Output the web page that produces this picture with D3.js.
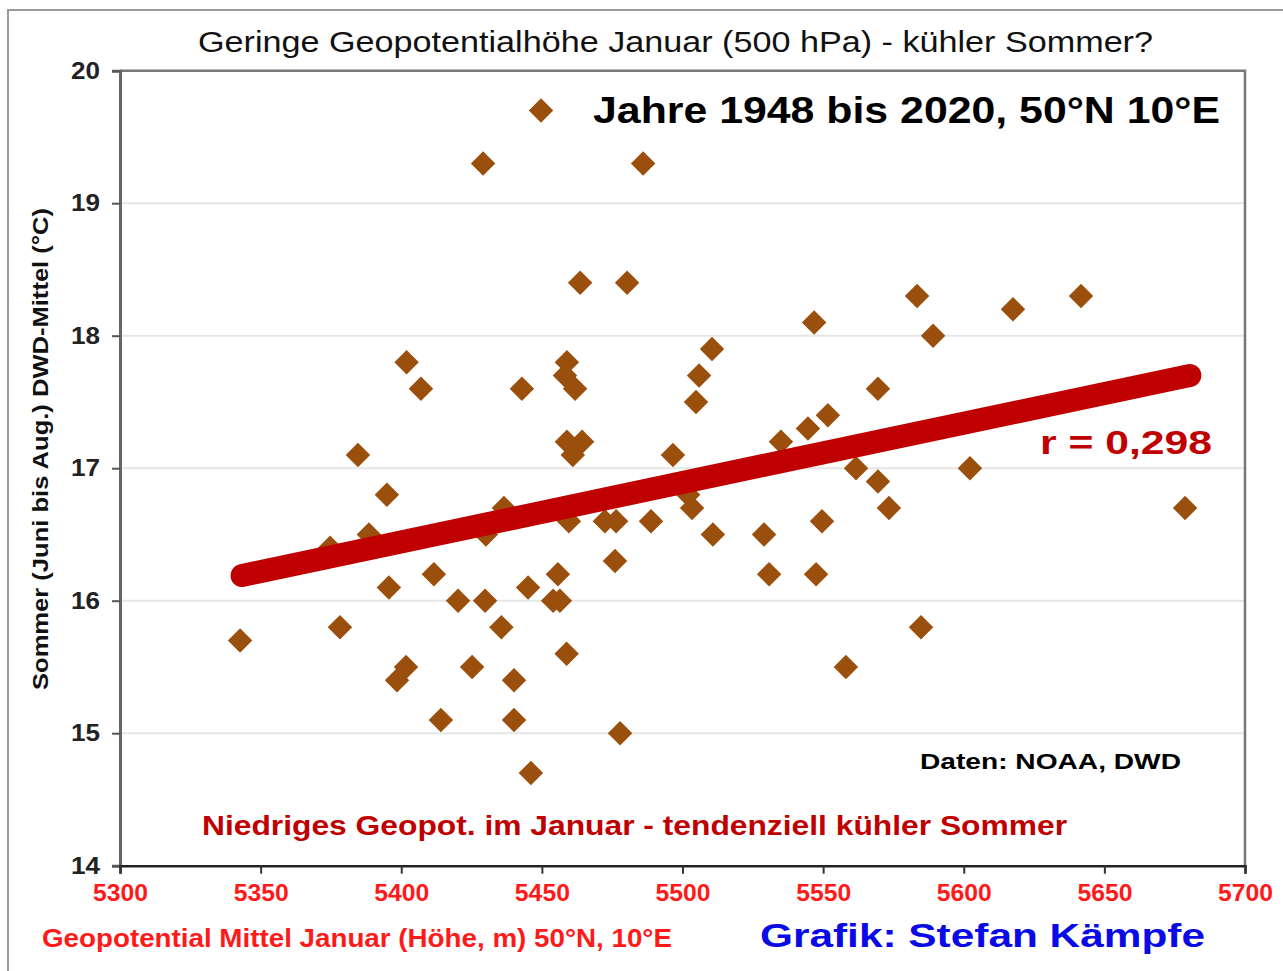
<!DOCTYPE html>
<html>
<head>
<meta charset="utf-8">
<script src="https://cdn.jsdelivr.net/npm/d3@7"></script>
<style>
  html, body { margin: 0; padding: 0; background: #fff; }
  svg { display: block; }
  text { font-family: "Liberation Sans", Arial, sans-serif; }
</style>
</head>
<body>
<svg id="chart" width="1283" height="971"></svg>
<script>
// Geopotential height January (m) per year, 1948-2020
const geopot = [5342.7, 5374.7, 5378.2, 5384.6, 5388.5, 5394.9, 5395.6, 5398.5, 5401.7, 5401.9,
  5407.0, 5411.6, 5414.1, 5420.2, 5425.2, 5429.1, 5429.8, 5430.1, 5435.6, 5436.5,
  5440.1, 5440.1, 5442.9, 5445.1, 5446.1, 5449.7, 5454.0, 5455.7, 5456.4, 5458.2,
  5458.9, 5458.8, 5458.9, 5459.6, 5461.0, 5461.8, 5463.6, 5464.3, 5472.4, 5476.4,
  5476.0, 5477.8, 5480.3, 5486.0, 5488.8, 5496.6, 5502.0, 5503.4, 5504.8, 5505.9,
  5510.5, 5510.8, 5529.0, 5530.8, 5535.0, 5544.6, 5546.8, 5547.5, 5549.6, 5551.7,
  5558.1, 5561.7, 5569.5, 5569.5, 5573.4, 5583.4, 5584.8, 5589.1, 5602.2, 5617.5,
  5641.7, 5678.7];
// Summer mean temperature (Jun-Aug) DWD (°C)
const summerTemp = [15.7, 16.4, 15.8, 17.1, 16.5, 16.8, 16.1, 15.4, 15.5, 17.8,
  17.6, 16.2, 15.1, 16.0, 15.5, 19.3, 16.0, 16.5, 15.8, 16.7,
  15.4, 15.1, 17.6, 16.1, 14.7, 19.7, 16.0, 16.2, 16.0, 17.7,
  17.8, 15.6, 17.2, 16.6, 17.1, 17.6, 18.4, 17.2, 16.6, 16.6,
  16.3, 15.0, 18.4, 19.3, 16.6, 17.1, 16.8, 16.7, 17.5, 17.7,
  17.9, 16.5, 16.5, 16.2, 17.2, 17.3, 18.1, 16.2, 16.6, 17.4,
  15.5, 17.0, 17.6, 16.9, 16.7, 18.3, 15.8, 18.0, 17.0, 18.2,
  18.3, 16.7];
// Linear trend line endpoints
const trendX = [5343.4, 5680.4];
const trendY = [16.19, 17.70];
const xTicks = [5300, 5350, 5400, 5450, 5500, 5550, 5600, 5650, 5700];
const yTicks = [14, 15, 16, 17, 18, 19, 20];

const svg = d3.select("#chart");
const pL = 120, pR = 1245, pT = 70.7, pB = 865.7;
const x = d3.scaleLinear().domain([5300, 5700]).range([pL, pR]);
const y = d3.scaleLinear().domain([14, 20]).range([pB, pT]);

// outer frame
svg.append("rect").attr("x", 8).attr("y", 10).attr("width", 1300).attr("height", 1000)
  .attr("fill", "none").attr("stroke", "#9a9a9a").attr("stroke-width", 2);

// gridlines
svg.append("g").selectAll("line").data(yTicks.filter(d => d > 14 && d < 20)).join("line")
  .attr("x1", pL).attr("x2", pR).attr("y1", d => y(d)).attr("y2", d => y(d))
  .attr("stroke", "#e6e6e6").attr("stroke-width", 2);

// plot frame top/right
svg.append("path").attr("d", `M${pL},${pT}H${pR}V${pB}`)
  .attr("fill", "none").attr("stroke", "#777").attr("stroke-width", 2.5);

// axes
const yAxis = svg.append("g").attr("transform", `translate(${pL},0)`)
  .call(d3.axisLeft(y).tickValues(yTicks).tickSize(8).tickPadding(12).tickFormat(d3.format("d")));
yAxis.select(".domain").attr("stroke", "#666").attr("stroke-width", 3);
yAxis.selectAll(".tick line").attr("stroke", "#555").attr("stroke-width", 2);
yAxis.selectAll(".tick text").attr("font-size", 24).attr("fill", "#222")
  .attr("font-family", "Liberation Sans, Arial").attr("font-weight", "bold")
  .attr("textLength", 29).attr("lengthAdjust", "spacingAndGlyphs");

const xAxis = svg.append("g").attr("transform", `translate(0,${pB})`)
  .call(d3.axisBottom(x).tickValues(xTicks).tickSize(8).tickPadding(10).tickFormat(d3.format("d")));
xAxis.select(".domain").attr("stroke", "#222").attr("stroke-width", 2.5);
xAxis.selectAll(".tick line").attr("stroke", "#333").attr("stroke-width", 2);
xAxis.selectAll(".tick text").attr("font-size", 24).attr("fill", "#ff1a1a")
  .attr("font-family", "Liberation Sans, Arial").attr("font-weight", "bold")
  .attr("textLength", 55).attr("lengthAdjust", "spacingAndGlyphs");

// points (diamonds)
const pts = geopot.map((g, i) => ({ g, t: summerTemp[i] }));
const diamond = d3.symbol().type(d3.symbolSquare).size(300);
svg.append("g").selectAll("path").data(pts).join("path")
  .attr("d", diamond)
  .attr("transform", d => `translate(${x(d.g)},${y(d.t)}) rotate(45)`)
  .attr("fill", "#9a4f0c");

// trend line
svg.append("path")
  .datum(trendX.map((v, i) => [v, trendY[i]]))
  .attr("d", d3.line().x(d => x(d[0])).y(d => y(d[1])))
  .attr("stroke", "#c00000").attr("stroke-width", 23).attr("stroke-linecap", "round").attr("fill", "none");

// texts
function txt(str, px, py, opts) {
  const t = svg.append("text").attr("x", px).attr("y", py).text(str)
    .attr("font-size", opts.size).attr("fill", opts.fill || "#000")
    .attr("font-weight", opts.weight || "normal");
  if (opts.anchor) t.attr("text-anchor", opts.anchor);
  if (opts.len) t.attr("textLength", opts.len).attr("lengthAdjust", "spacingAndGlyphs");
  return t;
}
txt("Geringe Geopotentialhöhe Januar (500 hPa) - kühler Sommer?", 198, 52, { size: 29, fill: "#111", len: 955 });
txt("Jahre 1948 bis 2020, 50°N 10°E", 593, 123, { size: 36, weight: "bold", len: 627 });
txt("r = 0,298", 1040, 454, { size: 33, weight: "bold", fill: "#c00000", len: 172 });
txt("Daten: NOAA, DWD", 920, 769, { size: 22, weight: "bold", len: 261 });
txt("Niedriges Geopot. im Januar - tendenziell kühler Sommer", 202, 835, { size: 27, weight: "bold", fill: "#c00000", len: 865 });
txt("Geopotential Mittel Januar (Höhe, m) 50°N, 10°E", 42, 947, { size: 25, weight: "bold", fill: "#ff1a1a", len: 630 });
txt("Grafik: Stefan Kämpfe", 760, 947, { size: 33, weight: "bold", fill: "#0a0ae6", len: 445 });
svg.append("text").attr("transform", "translate(48,449) rotate(-90)")
  .attr("text-anchor", "middle").attr("font-size", 22).attr("font-weight", "bold").attr("fill", "#111")
  .attr("textLength", 482).attr("lengthAdjust", "spacingAndGlyphs")
  .text("Sommer (Juni bis Aug.) DWD-Mittel (°C)");
</script>
</body>
</html>
